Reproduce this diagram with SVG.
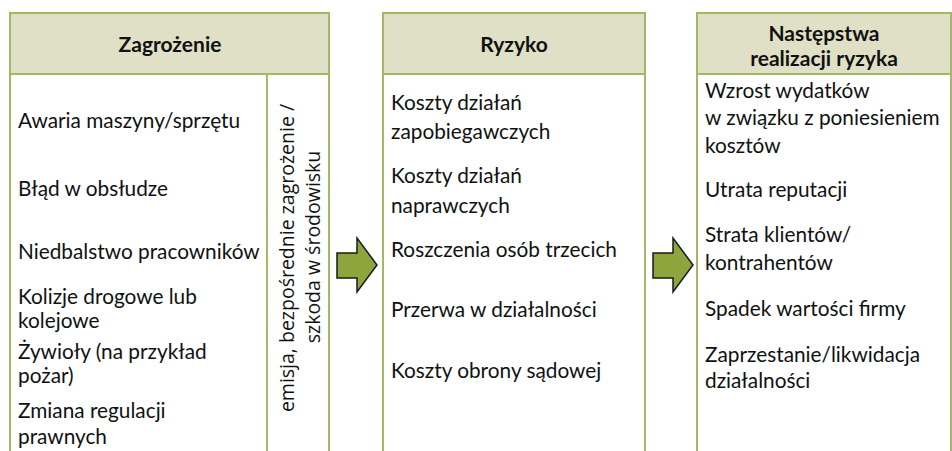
<svg xmlns="http://www.w3.org/2000/svg" width="952" height="451" viewBox="0 0 952 451">
<style>
.box{fill:#ffffff;stroke:#a3b865;stroke-width:2}
.hdr{fill:#dfe0c5;stroke:#a3b865;stroke-width:2}
.ln{stroke:#a3b865;stroke-width:2}
.h{font-family:Lato,"Liberation Sans",sans-serif;font-weight:bold;font-size:21px;fill:#111;text-anchor:middle}
.t{font-family:Lato,"Liberation Sans",sans-serif;font-size:20.8px;fill:#111}
.v{font-family:"Open Sans","Liberation Sans",sans-serif;font-size:19.5px;fill:#111;text-anchor:middle}
.arr{fill:#8ea53d;stroke:#1a1a1a;stroke-width:1.5;stroke-linejoin:miter}
</style>
<rect width="952" height="451" fill="#ffffff"/>
<g id="zagrozenie">
<rect class="box" x="10" y="13" width="319" height="460"/>
<rect class="hdr" x="10" y="13" width="319" height="61"/>
<line class="ln" x1="267" y1="74" x2="267" y2="460"/>
<text class="h" x="170" y="52">Zagrożenie</text>
<text class="t" x="18" y="128">Awaria maszyny/sprzętu</text>
<text class="t" x="18" y="196">Błąd w obsłudze</text>
<text class="t" x="18" y="259">Niedbalstwo pracowników</text>
<text class="t" x="18" y="304">Kolizje drogowe lub</text>
<text class="t" x="18" y="328">kolejowe</text>
<text class="t" x="18" y="359">Żywioły (na przykład</text>
<text class="t" x="18" y="383">pożar)</text>
<text class="t" x="18" y="418">Zmiana regulacji</text>
<text class="t" x="18" y="444">prawnych</text>
<text class="v" transform="translate(294,258) rotate(-90)">emisja, bezpośrednie zagrożenie /</text>
<text class="v" transform="translate(320,247) rotate(-90)">szkoda w środowisku</text>
</g>
<g id="ryzyko">
<rect class="box" x="383" y="13" width="262" height="460"/>
<rect class="hdr" x="383" y="13" width="262" height="61"/>
<text class="h" x="514" y="52">Ryzyko</text>
<text class="t" x="391" y="110">Koszty działań</text>
<text class="t" x="391" y="139">zapobiegawczych</text>
<text class="t" x="391" y="183">Koszty działań</text>
<text class="t" x="391" y="213">naprawczych</text>
<text class="t" x="391" y="257">Roszczenia osób trzecich</text>
<text class="t" x="391" y="317">Przerwa w działalności</text>
<text class="t" x="391" y="378">Koszty obrony sądowej</text>
</g>
<g id="nastepstwa">
<rect class="box" x="697" y="13" width="254" height="460"/>
<rect class="hdr" x="697" y="13" width="254" height="61"/>
<text class="h" x="824" y="41">Następstwa</text>
<text class="h" x="824" y="66">realizacji ryzyka</text>
<text class="t" x="705" y="98">Wzrost wydatków</text>
<text class="t" x="705" y="125">w związku z poniesieniem</text>
<text class="t" x="705" y="153">kosztów</text>
<text class="t" x="705" y="197">Utrata reputacji</text>
<text class="t" x="705" y="242">Strata klientów/</text>
<text class="t" x="705" y="270">kontrahentów</text>
<text class="t" x="705" y="316">Spadek wartości firmy</text>
<text class="t" x="705" y="362">Zaprzestanie/likwidacja</text>
<text class="t" x="705" y="388">działalności</text>
</g>
<g id="connectors">
<path class="arr" d="M337,253 H357 V238 L377,265 L357,292 V278 H337 Z"/>
<path class="arr" d="M653,253 H673 V238 L693,265 L673,292 V278 H653 Z"/>
</g>
</svg>
